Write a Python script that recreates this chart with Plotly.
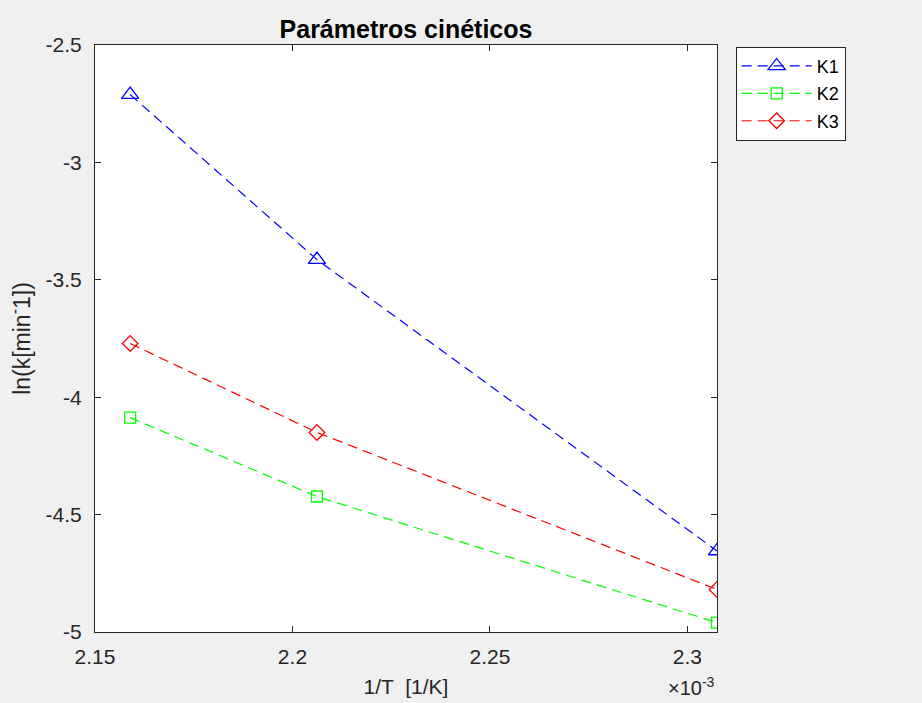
import plotly.graph_objects as go

# Data (x in units of 1e-3 1/K)
inv_T = [2.1589, 2.2062, 2.3075]
k1 = [-2.711, -3.414, -4.655]
k2 = [-4.087, -4.423, -4.960]
k3 = [-3.771, -4.150, -4.819]
series_names = ["K1", "K2", "K3"]
x_ticks = [2.15, 2.2, 2.25, 2.3]
x_tick_labels = ["2.15", "2.2", "2.25", "2.3"]
y_ticks = [-5, -4.5, -4, -3.5, -3, -2.5]
y_tick_labels = ["-5", "-4.5", "-4", "-3.5", "-3", "-2.5"]

FONT = "Liberation Sans, Arial, sans-serif"
AX = "#262626"

fig = go.Figure()
styles = [
    ("#0000ff", "triangle-up-open", 15),
    ("#00ff00", "square-open", 11),
    ("#ff0000", "diamond-open", 12),
]
for name, vals, (col, sym, sz) in zip(series_names, [k1, k2, k3], styles):
    fig.add_trace(go.Scatter(
        x=inv_T, y=vals, name=name, mode="lines+markers", legendgroup=name,
        line=dict(color=col, width=1.2, dash="10px,6px"),
        marker=dict(symbol=sym, size=sz, color=col, line=dict(color=col, width=1.3)),
    ))

fig.update_layout(
    width=922, height=703,
    margin=dict(l=95, r=205, t=45, b=71),
    paper_bgcolor="#f0f0f0", plot_bgcolor="white",
    font=dict(family=FONT, size=20, color=AX),
    title=dict(text="<b>Parámetros cinéticos</b>", x=(95 + 717) / 2 / 922, xanchor="center",
               y=1 - 29 / 703, yanchor="middle", font=dict(size=25, color="black")),
    showlegend=True,
    legend=dict(x=1.03, y=0.997, xanchor="left", yanchor="top",
                bgcolor="white", bordercolor=AX, borderwidth=1, itemwidth=70,
                font=dict(size=18, color="black"), tracegroupgap=1),
    xaxis=dict(range=[2.15, inv_T[-1]], tickvals=x_ticks, ticktext=x_tick_labels,
               showgrid=False, zeroline=False, showline=True, linecolor=AX, linewidth=1,
               mirror="ticks", ticks="inside", ticklen=6, tickcolor=AX, automargin=False,
               ticklabelstandoff=6, tickfont=dict(size=21),
               title=dict(text="1/T  [1/K]", standoff=12, font=dict(size=21, color=AX))),
    yaxis=dict(range=[-5, -2.5], tickvals=y_ticks, ticktext=y_tick_labels,
               showgrid=False, zeroline=False, showline=True, linecolor=AX, linewidth=1,
               mirror="ticks", ticks="inside", ticklen=6, tickcolor=AX, automargin=False,
               ticklabelstandoff=8, tickfont=dict(size=21),
               title=dict(text="ln(k[min<sup>-</sup>1])", standoff=8, font=dict(size=23, color=AX))),
)
fig.add_annotation(text="×10<sup>-3</sup>", xref="paper", yref="paper", x=1.0, y=-0.092,
                   xanchor="right", yanchor="middle", showarrow=False,
                   font=dict(size=20, color=AX))

fig.write_html("out.html")
